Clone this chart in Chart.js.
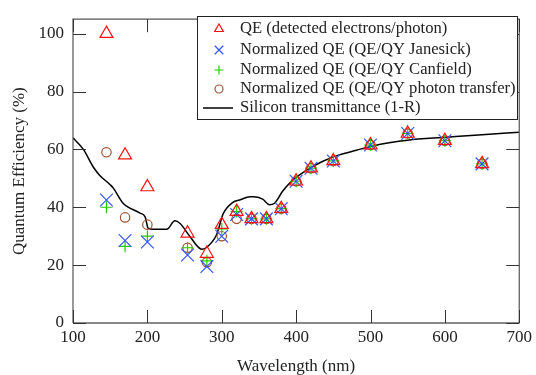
<!DOCTYPE html>
<html>
<head>
<meta charset="utf-8">
<script src="https://cdn.jsdelivr.net/npm/chart.js@4/dist/chart.umd.min.js"></script>
<style>
  html, body { margin: 0; padding: 0; background: #fff; }
  #wrap { width: 536px; height: 375px; }
</style>
</head>
<body>
<div id="wrap"><canvas id="qeChart" width="536" height="375"></canvas></div>
<script>
// measured wavelengths (nm)
var wavelengths = [145, 170, 200, 254, 280, 300, 320, 340, 360, 380, 400, 420, 450, 500, 550, 600, 650];
// quantum efficiency series (%)
var qeDetected       = [100, 58, 47, 31, 24, 34, 38.5, 36, 36, 39.5, 49, 53.5, 56, 61.5, 65.5, 63, 55];
var qeJanesick       = [42.5, 28.5, 28, 23.5, 19.5, 30, 37.5, 36, 36, 39.5, 49, 53.5, 56, 61.5, 65.5, 63, 55];
var qeCanfield       = [40, 26.5, 30, 26, 21.5, 32.5, 38.5, 36, 36, 39.5, 49, 53.5, 56, 61.5, 65.5, 63, 55];
var qePhotonTransfer = [59, 36.5, 34, 26, 21, 30, 36, 36, 36, 39.5, 49, 53.5, 56, 61.5, 65.5, 63, 55];

// silicon transmittance (1-R) curve
var siWavelengths = [100, 114, 127, 136, 150, 154, 167, 172, 190, 197, 201, 208, 226, 237, 244, 257, 273, 279, 293, 302, 315, 324, 338, 342, 355, 364, 371, 382, 396, 414, 436, 458, 481, 503, 525, 550, 602, 650, 700];
var siTransmit    = [64, 60, 54, 51, 47.8, 46.7, 41.5, 40.4, 38, 36.7, 32.8, 32.4, 32.4, 35.3, 34.4, 30, 25.5, 26, 30.5, 37.8, 41.7, 42.5, 43.6, 43.6, 42.8, 40.9, 41.4, 45.6, 49.5, 52.8, 55.9, 58.1, 59.7, 61.2, 62.3, 63.2, 64.2, 65.1, 65.9];

var xTicks = [100, 200, 300, 400, 500, 600, 700];
var yTicks = [0, 20, 40, 60, 80, 100];

var seriesLabels = [
  'QE (detected electrons/photon)',
  'Normalized QE (QE/QY Janesick)',
  'Normalized QE (QE/QY Canfield)',
  'Normalized QE (QE/QY photon transfer)',
  'Silicon transmittance (1-R)'
];

var serif = "'Liberation Serif', 'DejaVu Serif', serif";

function pts(xs, ys) {
  return xs.map(function (x, i) { return { x: x, y: ys[i] }; });
}

// box round the plot + inward tick marks
var frame = {
  id: 'frame',
  afterDatasetsDraw: function (chart) {
    var ctx = chart.ctx, a = chart.chartArea;
    var xs = chart.scales.x, ys = chart.scales.y;
    ctx.save();
    ctx.lineWidth = 1.2;
    ctx.strokeStyle = '#555';
    ctx.beginPath();
    ctx.moveTo(a.left, a.bottom); ctx.lineTo(a.left, a.top);
    ctx.lineTo(a.right, a.top); ctx.lineTo(a.right, a.bottom);
    ctx.stroke();
    ctx.strokeStyle = '#111';
    ctx.beginPath();
    ctx.moveTo(a.left, a.bottom); ctx.lineTo(a.right, a.bottom);
    ctx.stroke();
    ctx.strokeStyle = '#333';
    ctx.lineWidth = 1;
    ctx.beginPath();
    xTicks.forEach(function (v) {
      var px = Math.round(xs.getPixelForValue(v)) + 0.5;
      ctx.moveTo(px, a.bottom); ctx.lineTo(px, a.bottom - 13);
      ctx.moveTo(px, a.top); ctx.lineTo(px, a.top + 13);
    });
    yTicks.forEach(function (v) {
      var py = Math.round(ys.getPixelForValue(v)) + 0.5;
      ctx.moveTo(a.left, py); ctx.lineTo(a.left + 13, py);
      ctx.moveTo(a.right, py); ctx.lineTo(a.right - 13, py);
    });
    ctx.stroke();
    ctx.restore();
  }
};

// legend drawn inside the plot, top right
var boxLegend = {
  id: 'boxLegend',
  afterDraw: function (chart) {
    var ctx = chart.ctx;
    var left = 197.5, top = 16.5, w = 320, h = 103;
    var rowY = [29, 50, 70, 89, 108];
    var sizes = [5, 6, 4.5, 4];
    ctx.save();
    ctx.fillStyle = '#fff';
    ctx.fillRect(left, top, w, h);
    ctx.strokeStyle = '#222';
    ctx.lineWidth = 1;
    ctx.strokeRect(left, top, w, h);
    chart.data.datasets.forEach(function (ds, i) {
      var y = rowY[i];
      if (ds.showLine) {
        ctx.strokeStyle = ds.borderColor;
        ctx.lineWidth = 1.5;
        ctx.beginPath();
        ctx.moveTo(203, y); ctx.lineTo(233, y);
        ctx.stroke();
      } else {
        ctx.strokeStyle = ds.borderColor;
        ctx.fillStyle = 'rgba(0,0,0,0)';
        ctx.lineWidth = 1.2;
        Chart.helpers.drawPoint(ctx, {
          pointStyle: ds.pointStyle, radius: sizes[i], rotation: 0, borderWidth: 1.2
        }, 219, y);
      }
      ctx.fillStyle = '#222';
      ctx.font = '16.6px ' + serif;
      ctx.textBaseline = 'middle';
      ctx.textAlign = 'left';
      ctx.fillText(seriesLabels[i], 240, y);
    });
    ctx.restore();
  }
};

function markerSet(label, data, color, style, r) {
  return {
    label: label,
    data: data,
    showLine: false,
    pointStyle: style,
    pointRadius: r,
    pointHoverRadius: r,
    pointBorderWidth: 1.2,
    pointBorderColor: color,
    pointBackgroundColor: 'rgba(0,0,0,0)',
    borderColor: color,
    backgroundColor: 'rgba(0,0,0,0)'
  };
}

var ctx = document.getElementById('qeChart').getContext('2d');
var qeChart = new Chart(ctx, {
  type: 'scatter',
  data: {
    datasets: [
      markerSet(seriesLabels[0], pts(wavelengths, qeDetected), '#ff1010', 'triangle', 7.5),
      markerSet(seriesLabels[1], pts(wavelengths, qeJanesick), '#3355ff', 'crossRot', 9),
      markerSet(seriesLabels[2], pts(wavelengths, qeCanfield), '#22cc00', 'cross', 6),
      markerSet(seriesLabels[3], pts(wavelengths, qePhotonTransfer), '#a0522d', 'circle', 4.7),
      {
        label: seriesLabels[4],
        data: pts(siWavelengths, siTransmit),
        showLine: true,
        borderColor: '#000',
        borderWidth: 1.5,
        pointRadius: 0,
        cubicInterpolationMode: 'monotone',
        fill: false
      }
    ]
  },
  options: {
    responsive: false,
    animation: false,
    events: [],
    layout: { padding: { left: 0, right: 16, top: 10, bottom: 0 } },
    plugins: {
      legend: { display: false },
      tooltip: { enabled: false }
    },
    scales: {
      x: {
        type: 'linear',
        min: 100,
        max: 700,
        afterBuildTicks: function (s) { s.ticks = xTicks.map(function (v) { return { value: v }; }); },
        afterFit: function (s) { s.height = 52; },
        grid: { display: false, drawTicks: false },
        border: { display: false },
        ticks: { padding: 4, color: '#222', font: { family: serif, size: 17 }, maxRotation: 0 },
        title: {
          display: true, text: 'Wavelength (nm)', color: '#222',
          font: { family: serif, size: 17, lineHeight: 1 }, padding: { top: 0, bottom: 0 }
        }
      },
      y: {
        type: 'linear',
        min: 0,
        max: 105,
        afterBuildTicks: function (s) { s.ticks = yTicks.map(function (v) { return { value: v }; }); },
        afterFit: function (s) { s.width = 73; },
        grid: { display: false, drawTicks: false },
        border: { display: false },
        ticks: { padding: 9, color: '#222', font: { family: serif, size: 17 } },
        title: {
          display: true, text: 'Quantum Efficiency (%)', color: '#222',
          font: { family: serif, size: 17, lineHeight: 1 }, padding: { top: 11, bottom: 0 }
        }
      }
    }
  },
  plugins: [frame, boxLegend]
});
</script>
</body>
</html>
